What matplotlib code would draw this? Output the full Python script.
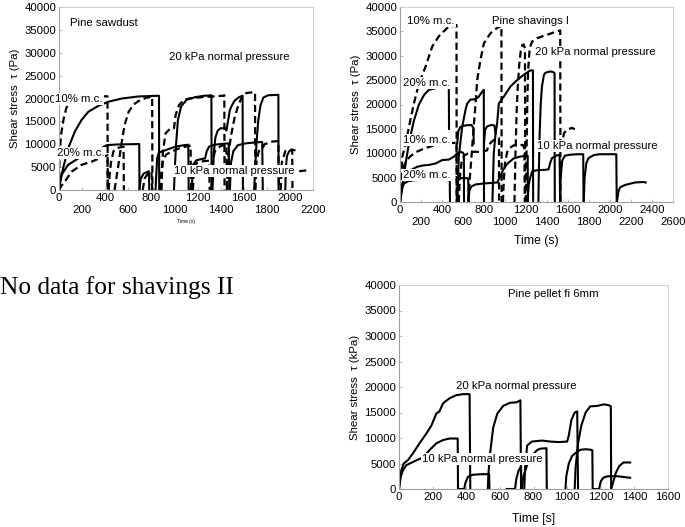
import matplotlib
matplotlib.use("Agg")
import matplotlib.pyplot as plt

plt.rcParams['font.family'] = ['Liberation Sans', 'DejaVu Sans']

# ---------------- Pine sawdust (time s, shear stress Pa) ----------------
# 20 kPa, solid
saw_s20_a = [(0, 0), (6, 1100), (35, 4700), (79, 9100), (137, 12750), (195, 15300), (254, 17100), (341, 18400),
             (428, 19300), (545, 20000), (690, 20450), (866, 20600), (868, 0)]
saw_s20_b = [(996, 0), (1003, 4700), (1014, 10000), (1030, 15300), (1058, 18300), (1105, 19700), (1180, 20300),
             (1260, 20600), (1320, 20700), (1322, 0)]
saw_s20_c = [(1330, 0), (1340, 8000), (1355, 11500), (1375, 13000), (1400, 13500), (1440, 13500), (1450, 13000),
             (1460, 14500), (1480, 17500), (1500, 18600), (1520, 19500), (1560, 20300), (1590, 20600), (1593, 0)]
saw_s20_d = [(1690, 0), (1700, 5000), (1710, 10000), (1725, 15000), (1745, 18500), (1770, 20200), (1810, 20700),
             (1900, 20800), (1902, 0)]
# 20 kPa, dashed
saw_d20_a = [(0, 0), (4, 6000), (8, 9000), (20, 12400), (40, 15500), (64, 18000), (100, 19300), (152, 20000),
             (250, 20300), (357, 20450), (420, 20500), (422, 0)]
saw_d20_b = [(481, 0), (510, 4700), (539, 9800), (568, 14200), (603, 17100), (646, 18700), (705, 19700),
             (763, 20200), (807, 20400), (809, 0)]
saw_d20_c = [(888, 0), (892, 3300), (900, 8400), (923, 12400), (967, 13500), (996, 13500), (1010, 16400),
             (1040, 18600), (1083, 19700), (1127, 20000), (1243, 20300), (1418, 20600), (1432, 20700), (1434, 0)]
saw_d20_d = [(1455, 0), (1462, 6900), (1491, 12000), (1520, 15700), (1549, 18200), (1578, 20000), (1607, 21100),
             (1651, 21300), (1698, 21300), (1700, 0)]
# 10 kPa, solid
saw_s10_a = [(0, 0), (8, 1500), (21, 3300), (79, 5500), (166, 6900), (254, 7700), (340, 8800), (414, 9800),
             (500, 9950), (600, 10000), (695, 10050), (697, 0)]
saw_s10_b = [(696, 0), (708, 2500), (734, 3600), (778, 4100), (782, 0)]
saw_s10_c = [(836, 0), (850, 6900), (865, 8200), (923, 8700), (1011, 9500), (1083, 9800), (1120, 9900), (1123, 0)]
saw_s10_d = [(1150, 0), (1160, 5500), (1190, 6500), (1240, 6800), (1265, 6900), (1280, 8500), (1300, 9500),
             (1350, 9900), (1420, 10100), (1470, 10200), (1475, 0)]
saw_s10_e = [(1480, 0), (1490, 6000), (1510, 8500), (1550, 9800), (1620, 10200), (1700, 10400), (1760, 10500),
             (1765, 0)]
saw_s10_f = [(1960, 0), (1965, 5000), (1975, 7500), (1995, 8500), (2020, 8800), (2040, 8700)]
# 10 kPa, dashed
saw_d10_a = [(0, 0), (20, 900), (50, 1800), (108, 4000), (195, 5500), (283, 6200), (356, 7000), (420, 7600),
             (422, 0)]
saw_d10_b = [(430, 0), (438, 3000), (450, 6000), (472, 8500), (516, 9250), (559, 9450), (562, 0)]
saw_d10_c = [(725, 0), (742, 2550), (772, 3640), (801, 4000), (807, 0)]
saw_d10_d = [(875, 0), (885, 3500), (900, 6500), (930, 7800), (970, 8300), (1010, 8800), (1050, 9200),
             (1100, 9500), (1140, 9700), (1142, 0)]
saw_d10_e = [(1160, 0), (1165, 3000), (1175, 5500), (1200, 6000), (1250, 6300), (1300, 6400), (1305, 0)]
saw_d10_f = [(1320, 0), (1330, 6000), (1350, 8500), (1400, 9600), (1450, 9900), (1455, 0)]
saw_d10_g = [(1700, 0), (1710, 6000), (1730, 8500), (1760, 9000), (1780, 10000), (1850, 10600), (1900, 10700),
             (1905, 0)]
saw_d10_h = [(1920, 0), (1930, 6000), (1960, 8500), (2000, 8800), (2020, 8800), (2022, 0)]
saw_d10_i = [(2080, 4100), (2150, 4300)]

# ---------------- Pine shavings I ----------------
shv_d20_a = [(0, 0), (10, 3000), (22, 9300), (54, 12000), (85, 15400), (130, 20000), (180, 24300), (244, 27800),
             (307, 31900), (370, 34000), (450, 35700), (530, 36200), (538, 36300), (540, 0)]
shv_d20_b = [(650, 0), (665, 5000), (680, 9000), (700, 15000), (719, 20000), (735, 25000), (766, 29100),
             (798, 32500), (861, 34600), (925, 35700), (960, 36100), (966, 36200), (968, 0)]
shv_d20_c = [(1090, 0), (1100, 10000), (1110, 18000), (1120, 23000), (1135, 28000), (1150, 31000), (1165, 32200),
             (1178, 32300), (1190, 31500), (1194, 0)]
shv_d20_d = [(1200, 0), (1205, 10000), (1212, 20000), (1220, 27000), (1235, 31500), (1257, 32900), (1305, 33600),
             (1400, 34300), (1495, 35000), (1526, 35200), (1528, 0)]
shv_d20_e = [(1540, 11000), (1561, 14100), (1593, 14900), (1640, 15200), (1665, 14900)]
shv_s20_a = [(0, 0), (20, 2500), (54, 8000), (85, 12000), (130, 16500), (180, 20000), (230, 22000), (275, 23000),
             (350, 23400), (430, 23500), (465, 23500), (467, 15000)]
shv_s20_b = [(545, 0), (560, 9300), (592, 15400), (624, 18900), (640, 20200), (671, 21000), (719, 21100),
             (750, 21600), (782, 22600), (798, 23000), (800, 0)]
shv_s20_c = [(880, 0), (893, 10000), (910, 14000), (925, 16100), (941, 20200), (988, 21600), (1052, 23700),
             (1115, 25000), (1178, 26100), (1242, 27000), (1266, 27000), (1268, 0)]
shv_s20_d = [(1318, 0), (1322, 6000), (1330, 14000), (1340, 20000), (1352, 23700), (1370, 26000), (1384, 26500),
             (1431, 26800), (1463, 26600), (1472, 26400), (1474, 0)]
shv_s20_h1 = [(545, 12000), (555, 14500), (575, 15400), (620, 15700), (680, 15800), (700, 15200), (702, 12000)]
shv_s20_h2 = [(800, 12000), (810, 14800), (830, 15500), (870, 15800), (900, 15700), (910, 14000)]
shv_d10_a = [(0, 0), (8, 3500), (20, 6000), (40, 7500), (70, 8700), (100, 9400), (150, 10200), (200, 10700),
             (277, 11300), (350, 11800), (430, 12000), (500, 12100), (538, 12200), (540, 0)]
shv_d10_b = [(560, 0), (570, 5000), (585, 8000), (610, 9500), (650, 10000), (700, 10300), (760, 10300),
             (800, 10400), (830, 10600), (840, 11500), (870, 12300), (900, 12800), (930, 13000), (942, 13100),
             (944, 0)]
shv_d10_c = [(980, 0), (990, 5000), (1000, 8000), (1020, 10200), (1040, 11000), (1080, 11600), (1130, 11700),
             (1170, 11700), (1185, 11000), (1188, 0)]
shv_s10_a = [(0, 0), (10, 2500), (25, 4000), (60, 5500), (100, 6500), (160, 7200), (220, 7500), (275, 7600),
             (339, 7900), (402, 8600), (465, 8700), (513, 9300), (545, 9950), (576, 10300), (600, 10100),
             (608, 9800), (610, 0)]
shv_s10_b = [(0, 0), (8, 1500), (20, 3000), (40, 3800), (80, 4300), (150, 4500), (300, 4600), (474, 4700),
             (476, 0)]
shv_s10_c = [(545, 0), (548, 3000), (555, 4500), (580, 4900), (640, 4900), (650, 4800), (652, 0)]
shv_s10_d = [(652, 0), (660, 2300), (680, 3200), (720, 3600), (800, 3800), (925, 4000), (945, 4800), (980, 6500),
             (1020, 7800), (1080, 8900), (1140, 9300), (1216, 9500), (1218, 0)]
shv_s10_e = [(1216, 0), (1225, 3500), (1240, 5000), (1260, 6300), (1300, 6500), (1380, 6600), (1415, 6700),
             (1430, 8000), (1447, 9000), (1480, 9400), (1500, 9600), (1520, 9700), (1525, 0)]
shv_s10_f = [(1526, 0), (1530, 5000), (1545, 8500), (1570, 9500), (1620, 9700), (1700, 9800), (1745, 9800),
             (1748, 0)]
shv_s10_g = [(1750, 0), (1758, 5000), (1775, 8000), (1795, 9000), (1843, 9600), (1900, 9800), (1954, 9800),
             (2060, 9800), (2064, 0)]
shv_s10_h = [(2066, 0), (2080, 2200), (2096, 3000), (2144, 3500), (2239, 4000), (2318, 4100), (2340, 4000)]

# ---------------- Pine pellet ----------------
pel_20_a = [(0, 0), (8, 2500), (14, 3700), (28, 5000), (54, 5700), (83, 7000), (123, 9000), (163, 10900),
            (192, 12400), (222, 14800), (240, 15200), (262, 16800), (301, 17800), (341, 18400), (381, 18600),
            (420, 18600), (424, 0)]
pel_20_b = [(528, 0), (532, 3000), (542, 7000), (560, 12000), (585, 14800), (620, 16300), (660, 16900),
            (700, 17000), (722, 17400), (726, 0)]
pel_20_c = [(745, 0), (750, 4000), (762, 8500), (790, 9300), (850, 9500), (900, 9300), (950, 9200), (1000, 9300),
            (1010, 10500), (1025, 13500), (1045, 15000), (1060, 15200), (1065, 0)]
pel_20_d = [(1045, 0), (1050, 4000), (1065, 9000), (1085, 12500), (1110, 15000), (1137, 16200), (1180, 16300),
            (1220, 16600), (1250, 16400), (1260, 16200), (1262, 0)]
pel_20_e = [(1262, 0), (1275, 1500), (1290, 3200), (1310, 4500), (1335, 5200), (1375, 5200)]
pel_10_a = [(0, 0), (10, 2400), (24, 3700), (44, 4700), (103, 5600), (143, 6200), (182, 7650), (222, 8950),
            (262, 9600), (301, 9900), (349, 9900), (351, 0), (388, 0)]
pel_10_b = [(388, 0), (395, 1200), (410, 2400), (440, 2800), (490, 2900), (536, 2900), (538, 0)]
pel_10_c = [(640, 0), (690, 0), (698, 2000), (710, 3500), (722, 4200), (726, 4500), (728, 0)]
pel_10_d = [(730, 0), (740, 2500), (760, 4500), (790, 6500), (820, 7600), (839, 7900), (877, 8000), (879, 0)]
pel_10_e = [(990, 0), (995, 2500), (1010, 5000), (1030, 6500), (1060, 7300), (1080, 7700), (1110, 7800),
            (1140, 7700), (1150, 7600), (1152, 0), (1190, 0)]
pel_10_f = [(1190, 0), (1200, 1500), (1215, 2200), (1240, 2500), (1300, 2500), (1350, 2300), (1375, 2200)]

yticks = list(range(0, 40001, 5000))
FS = 8.2
W, H = 685, 527

fig = plt.figure(figsize=(6.85, 5.27), dpi=100)


def frame(ax, xmax, ylabel):
    ax.set_xlim(0, xmax)
    ax.set_ylim(0, 40000)
    ax.set_yticks(yticks)
    ax.set_yticklabels([str(v) for v in yticks], fontsize=FS)
    for s in ['top', 'right']:
        ax.spines[s].set_color('#c8c8c8')
        ax.spines[s].set_linewidth(0.6)
    for s in ['left', 'bottom']:
        ax.spines[s].set_color('#a0a0a0')
        ax.spines[s].set_linewidth(0.8)
    ax.tick_params(which='both', direction='in', length=2.5, width=0.6, color='#b0b0b0', pad=2)
    ax.set_ylabel(ylabel, fontsize=FS, labelpad=3)


def stagger(ax, xmax):
    # labels alternate between two rows: even ones as major ticks, odd ones as minor ticks pushed down
    top = list(range(0, xmax + 1, 400))
    low = list(range(200, xmax + 1, 400))
    ax.set_xticks(top, [str(v) for v in top], fontsize=FS)
    ax.set_xticks(low, [str(v) for v in low], minor=True, fontsize=FS)
    ax.tick_params(axis='x', which='minor', pad=10.5)


def draw(ax, segs, dashed):
    for seg in segs:
        t, y = zip(*seg)
        if dashed:
            ax.plot(t, y, color='black', lw=1.6, linestyle=(0, (3.2, 1.8)), zorder=2)
        else:
            ax.plot(t, y, color='black', lw=1.5, zorder=2)


def label(ax, x, y, s):
    ax.text(x, y, s, fontsize=FS, va='center', ha='left', zorder=5, clip_on=False,
            bbox=dict(facecolor='white', edgecolor='none', pad=0.8))


# panel 1: pine sawdust
ax1 = fig.add_axes([59 / W, 1 - 190 / H, 254 / W, 183 / H])
frame(ax1, 2200, 'Shear stress  τ (Pa)')
stagger(ax1, 2200)
draw(ax1, [saw_s20_a, saw_s20_b, saw_s20_c, saw_s20_d, saw_s10_a, saw_s10_b, saw_s10_c, saw_s10_d, saw_s10_e,
           saw_s10_f], False)
draw(ax1, [saw_d20_a, saw_d20_b, saw_d20_c, saw_d20_d, saw_d10_a, saw_d10_b, saw_d10_c, saw_d10_d, saw_d10_e,
           saw_d10_f, saw_d10_g, saw_d10_h, saw_d10_i], True)
ax1.set_xlabel('Time (s)', fontsize=3.5, labelpad=3)
label(ax1, 93, 36500, 'Pine sawdust')
label(ax1, 949, 29070, '20 kPa normal pressure')
label(ax1, -33, 19900, '10% m.c.')
label(ax1, -20, 8090, '20% m.c.')
label(ax1, 993, 4150, '10 kPa normal pressure')

# panel 2: pine shavings I
ax2 = fig.add_axes([400 / W, 1 - 202 / H, 273 / W, 195 / H])
frame(ax2, 2600, 'Shear stress  τ (Pa)')
stagger(ax2, 2600)
draw(ax2, [shv_s20_a, shv_s20_b, shv_s20_c, shv_s20_d, shv_s20_h1, shv_s20_h2, shv_s10_a, shv_s10_b, shv_s10_c,
           shv_s10_d, shv_s10_e, shv_s10_f, shv_s10_g, shv_s10_h], False)
draw(ax2, [shv_d20_a, shv_d20_b, shv_d20_c, shv_d20_d, shv_d20_e, shv_d10_a, shv_d10_b, shv_d10_c], True)
ax2.set_xlabel('Time (s)', fontsize=8.8, labelpad=6)
label(ax2, 67, 37120, '10% m.c.')
label(ax2, 876, 37120, 'Pine shavings I')
label(ax2, 1286, 30770, '20 kPa normal pressure')
label(ax2, 29, 24400, '20% m.c.')
label(ax2, 29, 12700, '10% m.c.')
label(ax2, 1305, 11490, '10 kPa normal pressure')
label(ax2, 29, 5540, '20% m.c.')

# panel 3: pine pellet
ax3 = fig.add_axes([399 / W, 1 - 489 / H, 269 / W, 204 / H])
frame(ax3, 1600, 'Shear stress  τ (kPa)')
ax3.set_xticks(list(range(0, 1601, 200)))
ax3.set_xticklabels([str(v) for v in range(0, 1601, 200)], fontsize=FS)
draw(ax3, [pel_20_a, pel_20_b, pel_20_c, pel_20_d, pel_20_e, pel_10_a, pel_10_b, pel_10_c, pel_10_d, pel_10_e,
           pel_10_f], False)
ax3.set_xlabel('Time [s]', fontsize=8.8, labelpad=8)
label(ax3, 649, 38240, 'Pine pellet fi 6mm')
label(ax3, 339, 20200, '20 kPa normal pressure')
label(ax3, 137, 5880, '10 kPa normal pressure')

fig.text(0.0, 1 - 288 / H, 'No data for shavings II', fontsize=18.3, family='Liberation Serif',
         va='center', ha='left')

fig.savefig('out.png', dpi=100)
